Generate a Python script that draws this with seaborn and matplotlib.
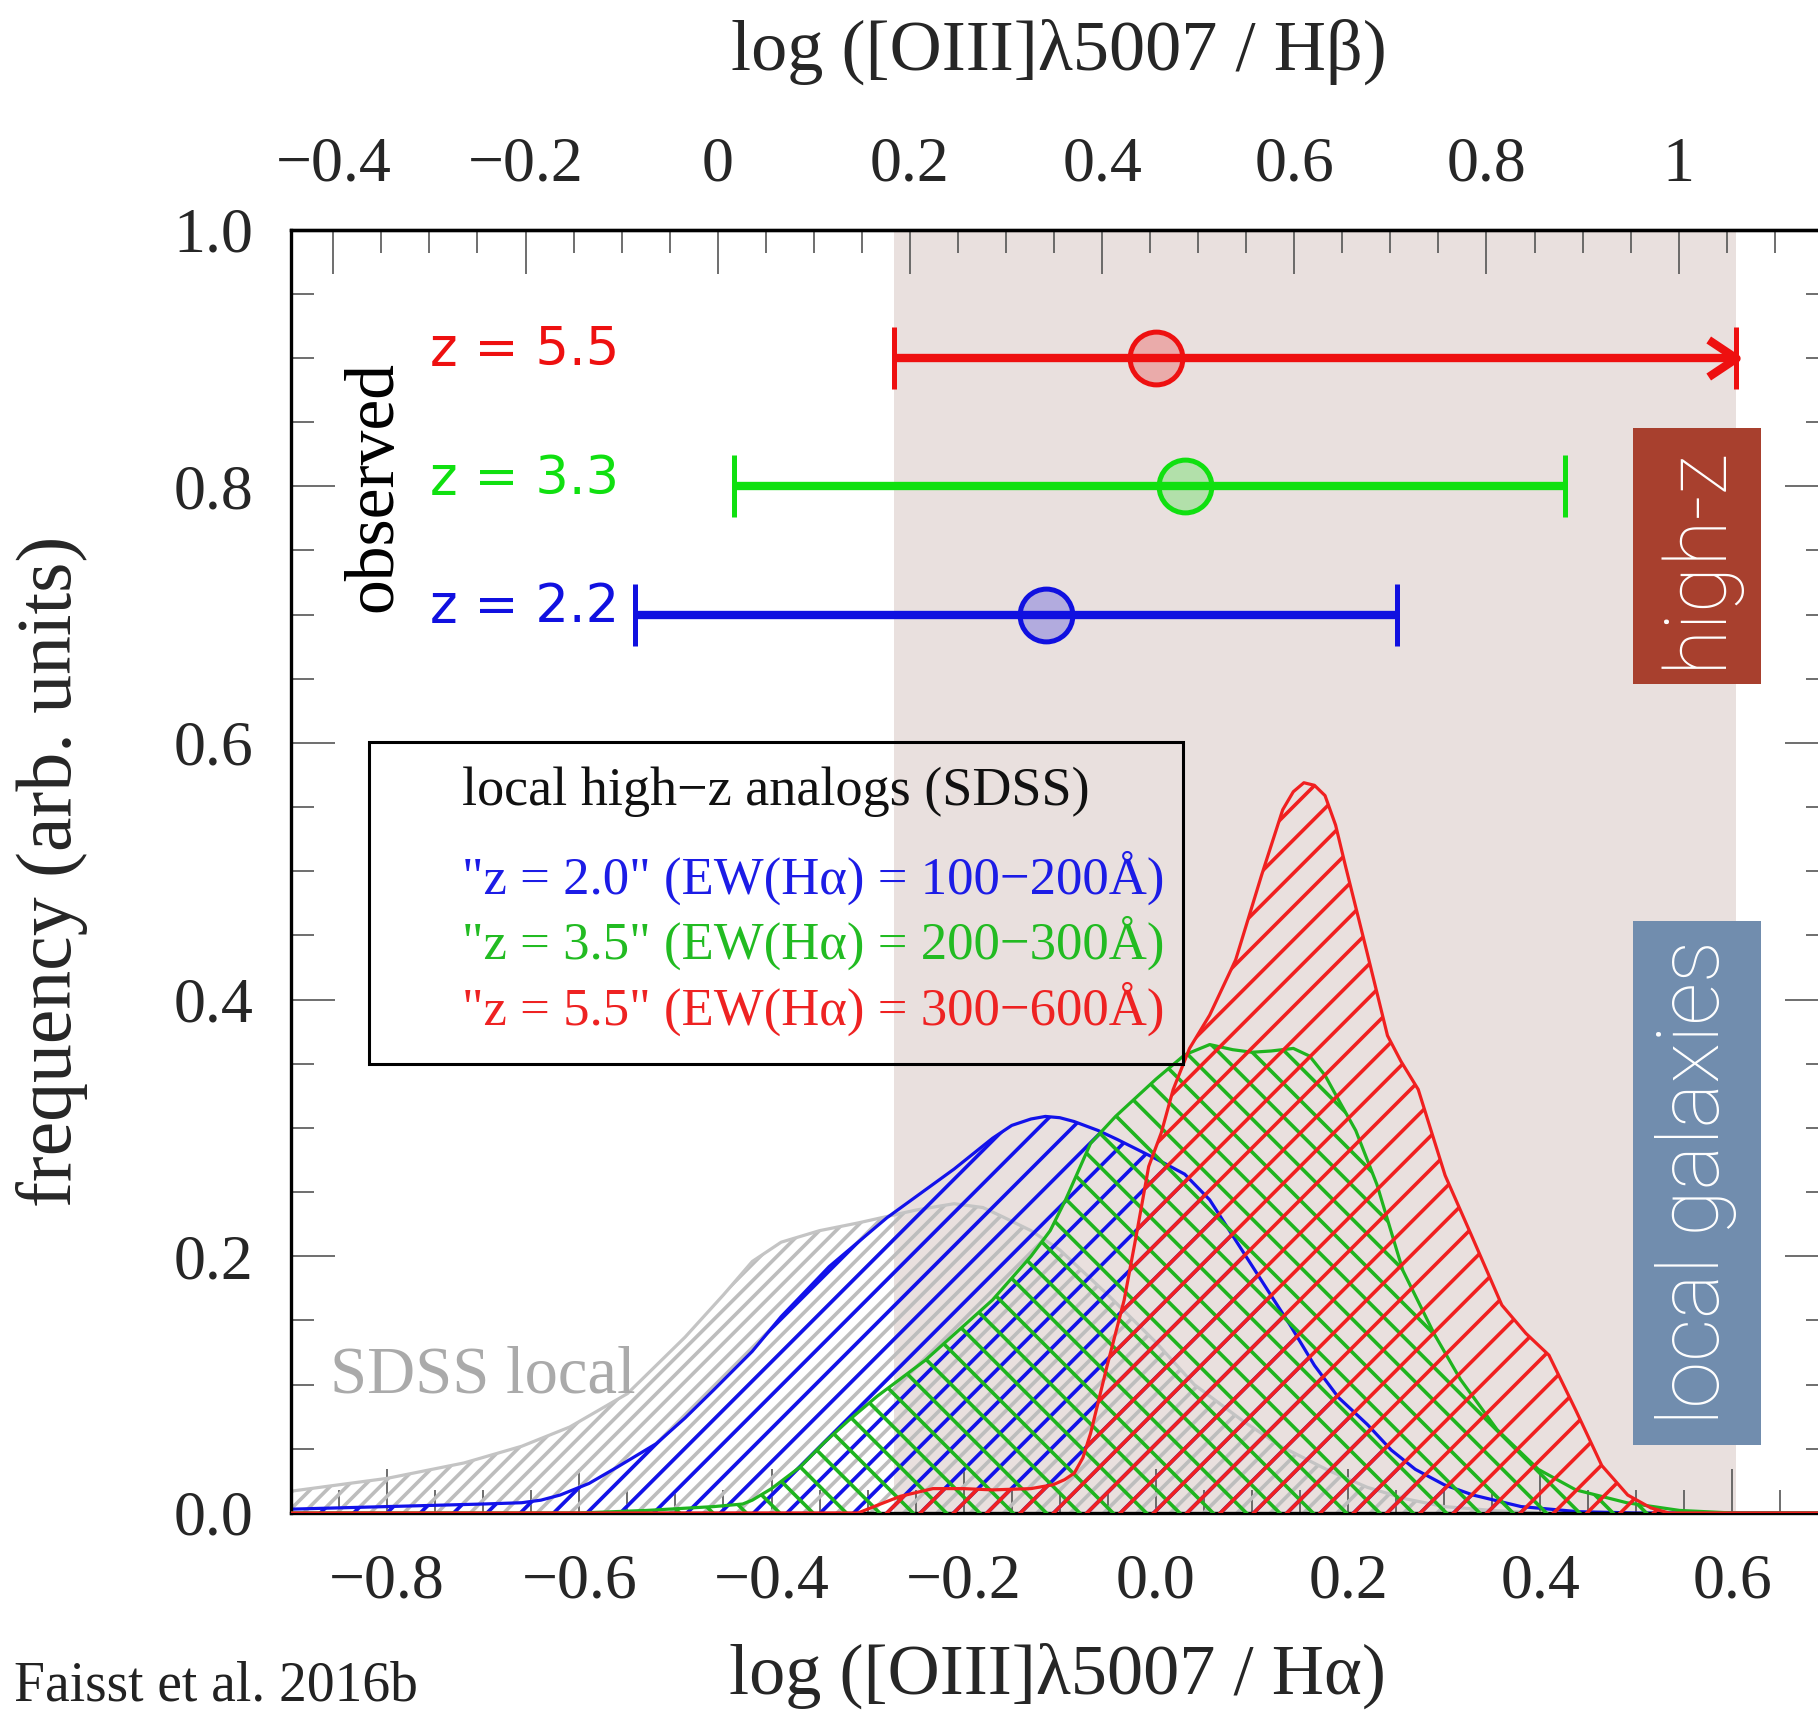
import matplotlib
matplotlib.use("Agg")
import matplotlib.pyplot as plt
import seaborn as sns
from matplotlib.patches import Rectangle
from matplotlib.path import Path
from matplotlib.ticker import FixedLocator, FixedFormatter, MultipleLocator

# log10(Halpha/Hbeta), converts log([OIII]/Ha) into log([OIII]/Hb)
HA_HB = 0.456

# local distributions as a function of log([OIII]5007/Halpha)
sdss_x = [-0.90, -0.80, -0.72, -0.66, -0.61, -0.55, -0.49, -0.45, -0.42, -0.39,
          -0.35, -0.31, -0.25, -0.21, -0.18, -0.16, -0.13, -0.10, -0.05, 0.00,
          0.04, 0.09, 0.13, 0.18, 0.22, 0.26, 0.30, 0.35, 0.40]
sdss_y = [0.017, 0.027, 0.039, 0.052, 0.067, 0.093, 0.137, 0.170, 0.196, 0.211,
          0.220, 0.226, 0.236, 0.241, 0.238, 0.231, 0.220, 0.205, 0.170, 0.133,
          0.100, 0.072, 0.052, 0.033, 0.020, 0.011, 0.005, 0.002, 0.000]

z20_x = [-0.90, -0.80, -0.70, -0.66, -0.64, -0.62, -0.59, -0.56, -0.52, -0.49,
         -0.46, -0.42, -0.39, -0.34, -0.28, -0.21, -0.17, -0.15, -0.13, -0.115,
         -0.10, -0.085, -0.06, -0.04, 0.00, 0.03, 0.056, 0.08, 0.11, 0.14,
         0.165, 0.19, 0.22, 0.245, 0.27, 0.30, 0.33, 0.38, 0.44, 0.50, 0.70]
z20_y = [0.003, 0.005, 0.007, 0.008, 0.010, 0.014, 0.023, 0.036, 0.054, 0.074,
         0.096, 0.126, 0.153, 0.192, 0.230, 0.268, 0.292, 0.302, 0.307, 0.309,
         0.308, 0.305, 0.298, 0.291, 0.276, 0.264, 0.244, 0.216, 0.181, 0.146,
         0.115, 0.090, 0.069, 0.049, 0.034, 0.022, 0.014, 0.005, 0.001, 0.000, 0.000]

z35_x = [-0.90, -0.60, -0.53, -0.46, -0.43, -0.42, -0.40, -0.37, -0.345, -0.32,
         -0.29, -0.24, -0.17, -0.13, -0.11, -0.094, -0.068, -0.042, 0.00, 0.03,
         0.056, 0.08, 0.10, 0.12, 0.143, 0.16, 0.176, 0.19, 0.208, 0.23, 0.257,
         0.29, 0.317, 0.355, 0.398, 0.437, 0.49, 0.545, 0.60, 0.70]
z35_y = [0.000, 0.000, 0.002, 0.005, 0.007, 0.010, 0.019, 0.036, 0.055, 0.072,
         0.091, 0.119, 0.166, 0.200, 0.220, 0.244, 0.288, 0.309, 0.338, 0.357,
         0.365, 0.361, 0.359, 0.360, 0.362, 0.356, 0.341, 0.322, 0.298, 0.256,
         0.189, 0.139, 0.104, 0.065, 0.034, 0.018, 0.008, 0.002, 0.000, 0.000]

z55_x = [-0.90, -0.31, -0.29, -0.266, -0.232, -0.20, -0.17, -0.13, -0.107, -0.095,
         -0.085, -0.076, -0.068, -0.051, -0.033, -0.020, -0.0075, 0.0055, 0.018,
         0.035, 0.056, 0.083, 0.110, 0.132, 0.143, 0.154, 0.165, 0.176, 0.187,
         0.197, 0.219, 0.241, 0.255, 0.273, 0.301, 0.328, 0.360, 0.385, 0.409,
         0.437, 0.464, 0.491, 0.515, 0.534, 0.70]
z55_y = [0.000, 0.000, 0.006, 0.013, 0.019, 0.019, 0.018, 0.019, 0.022, 0.026,
         0.031, 0.043, 0.062, 0.114, 0.166, 0.218, 0.270, 0.296, 0.330, 0.362,
         0.388, 0.431, 0.497, 0.548, 0.562, 0.569, 0.567, 0.559, 0.536, 0.505,
         0.439, 0.372, 0.352, 0.330, 0.263, 0.217, 0.162, 0.140, 0.123, 0.080,
         0.037, 0.014, 0.004, 0.000, 0.000]

# observed ranges, in log([OIII]5007/Hbeta)
obs_labels = ["z = 5.5", "z = 3.3", "z = 2.2"]
obs_level = [0.9, 0.8, 0.7]
obs_mid = [0.456, 0.486, 0.342]
obs_lo = [0.183, 0.017, -0.086]
obs_hi = [1.060, 0.882, 0.707]
obs_colors = ["#ee1010", "#10e010", "#1010e0"]

legend_title = "local high\u2212z analogs (SDSS)"
legend_lines = ['"z = 2.0" (EW(H\u03b1) = 100\u2212200\u00c5)',
                '"z = 3.5" (EW(H\u03b1) = 200\u2212300\u00c5)',
                '"z = 5.5" (EW(H\u03b1) = 300\u2212600\u00c5)']
legend_colors = ["#1c1ce6", "#22bb22", "#ee2222"]

bottom_ticks = [-0.8, -0.6, -0.4, -0.2, 0.0, 0.2, 0.4, 0.6]
bottom_ticklabels = ["\u22120.8", "\u22120.6", "\u22120.4", "\u22120.2", "0.0", "0.2", "0.4", "0.6"]
top_ticks = [-0.4, -0.2, 0.0, 0.2, 0.4, 0.6, 0.8, 1.0]
top_ticklabels = ["\u22120.4", "\u22120.2", "0", "0.2", "0.4", "0.6", "0.8", "1"]
y_ticks = [0.0, 0.2, 0.4, 0.6, 0.8, 1.0]
y_ticklabels = ["0.0", "0.2", "0.4", "0.6", "0.8", "1.0"]

sns.set_theme(style="ticks")
plt.rcParams["font.family"] = ["Liberation Serif", "DejaVu Serif"]
plt.rcParams["hatch.linewidth"] = 2.6
plt.rcParams["axes.linewidth"] = 2.4

fig = plt.figure(figsize=(18.18, 17.16), dpi=100)
fig.patch.set_facecolor("white")
ax = fig.add_axes([0.1601, 0.1183, 1.0058 - 0.1601, 0.8662 - 0.1183])
ax.set_facecolor("white")
ax.set_xlim(-0.9, 0.7)
ax.set_ylim(0.0, 1.0)

# shaded range spanned by the z = 5.5 observations
ax.axvspan(obs_lo[0] - HA_HB, obs_hi[0] - HA_HB, color="#e9e0de", lw=0, zorder=0)

# hatched distributions
curves = [
    (sdss_x, sdss_y, "#bdbdbd", "#c4c4c4", "//", 1),
    (z20_x, z20_y, "#1212ea", "#1212ea", "/", 2),
    (z35_x, z35_y, "#1fb41f", "#1fb41f", "\\", 3),
    (z55_x, z55_y, "#f02020", "#f02020", "/", 4),
]
for xs, ys, hcol, lcol, hatch, z in curves:
    ax.fill_between(xs, ys, 0, facecolor="none", edgecolor=hcol, hatch=hatch,
                    linewidth=0, zorder=z)
    sns.lineplot(x=xs, y=ys, ax=ax, color=lcol, lw=2.3, sort=False,
                 estimator=None, zorder=z + 0.5)

# observed ranges with medians
chevron = Path([(-1.5, 1.0), (0.0, 0.0), (-1.5, -1.0)],
               [Path.MOVETO, Path.LINETO, Path.LINETO])
for lab, lev, mid, lo, hi, col in zip(obs_labels, obs_level, obs_mid, obs_lo,
                                      obs_hi, obs_colors):
    ax.errorbar(mid - HA_HB, lev, xerr=[[mid - lo], [hi - mid]], fmt="o",
                ms=38, mfc=matplotlib.colors.to_rgba(col, 0.25), mec=col, mew=3.6,
                ecolor=col, elinewidth=6, capsize=22, capthick=6, zorder=8)
    ax.text(-0.755, lev + 0.006, lab, color=col, fontsize=38, ha="left",
            va="center", family="DejaVu Sans", zorder=9)
ax.plot([obs_hi[0] - HA_HB], [obs_level[0]], marker=chevron, ms=40, mfc="none",
        mec=obs_colors[0], mew=6, ls="none", zorder=8)

ax.text(-0.8128, 0.7995, "observed", rotation=90, ha="center", va="center",
        fontsize=50, color="black", zorder=9)

# legend block
ax.add_patch(Rectangle((-0.819, 0.350), 0.847, 0.251, fill=False, ec="black",
                       lw=2.2, zorder=6))
ax.text(-0.722, 0.562, legend_title, fontsize=39, color="#111111", ha="left",
        va="center", zorder=7)
for txt, col, yy in zip(legend_lines, legend_colors, [0.495, 0.444, 0.393]):
    ax.text(-0.722, yy, txt, fontsize=38, color=col, ha="left", va="center", zorder=7)

ax.text(-0.8595, 0.1066, "SDSS local", fontsize=48, color="#aaaaaa", ha="left",
        va="center", zorder=7)

# side tags
ax.add_patch(Rectangle((0.4962, 0.6459), 0.1339, 0.1996, fc="#a8402e", ec="none", zorder=7))
ax.text(0.5625, 0.7453, "high-z", rotation=90, color="white", fontsize=61,
        family="Roboto", fontweight="light", ha="center", va="center", zorder=8)
ax.add_patch(Rectangle((0.4962, 0.0533), 0.1339, 0.4083, fc="#718dae", ec="none", zorder=7))
ax.text(0.5625, 0.2575, "local galaxies", rotation=90, color="white", fontsize=61,
        family="Roboto", fontweight="light", ha="center", va="center", zorder=8)

# ticks and axes
tick_col = "#555555"
ax.xaxis.set_major_locator(FixedLocator(bottom_ticks))
ax.xaxis.set_major_formatter(FixedFormatter(bottom_ticklabels))
ax.xaxis.set_minor_locator(MultipleLocator(0.05))
ax.yaxis.set_major_locator(FixedLocator(y_ticks))
ax.yaxis.set_major_formatter(FixedFormatter(y_ticklabels))
ax.yaxis.set_minor_locator(MultipleLocator(0.05))
ax.tick_params(axis="x", which="both", direction="in", top=False, bottom=True,
               color=tick_col, width=1.2, labelsize=46, pad=29)
ax.tick_params(axis="y", which="both", direction="in", left=True, right=True,
               color=tick_col, width=1.2, labelsize=46, pad=27)
ax.tick_params(which="major", length=32)
ax.tick_params(which="minor", length=16.5)
for s in ax.spines.values():
    s.set_color("black")
    s.set_linewidth(2.4)

secax = ax.secondary_xaxis("top", functions=(lambda v: v + HA_HB, lambda v: v - HA_HB))
secax.xaxis.set_major_locator(FixedLocator(top_ticks))
secax.xaxis.set_major_formatter(FixedFormatter(top_ticklabels))
secax.xaxis.set_minor_locator(MultipleLocator(0.05))
secax.tick_params(axis="x", which="both", direction="in", color=tick_col, width=1.2,
                  labelsize=46, pad=25)
secax.tick_params(which="major", length=32)
secax.tick_params(which="minor", length=16.5)
secax.spines["top"].set_linewidth(2.4)

secax.set_xlabel("log ([OIII]\u03bb5007 / H\u03b2)", fontsize=52, va="center")
secax.xaxis.set_label_coords(0.4995, 1.1382, transform=ax.transAxes)
ax.set_xlabel("log ([OIII]\u03bb5007 / H\u03b1)", fontsize=52, va="center")
ax.xaxis.set_label_coords(0.4984, -0.1265)
ax.set_ylabel("frequency (arb. units)", fontsize=56, va="center")
ax.yaxis.set_label_coords(-0.1554, 0.5)

fig.text(14 / 1818, 0.017, "Faisst et al. 2016b", fontsize=40, ha="left",
         va="center", color="#222222")

fig.savefig("out.png", dpi=100)
